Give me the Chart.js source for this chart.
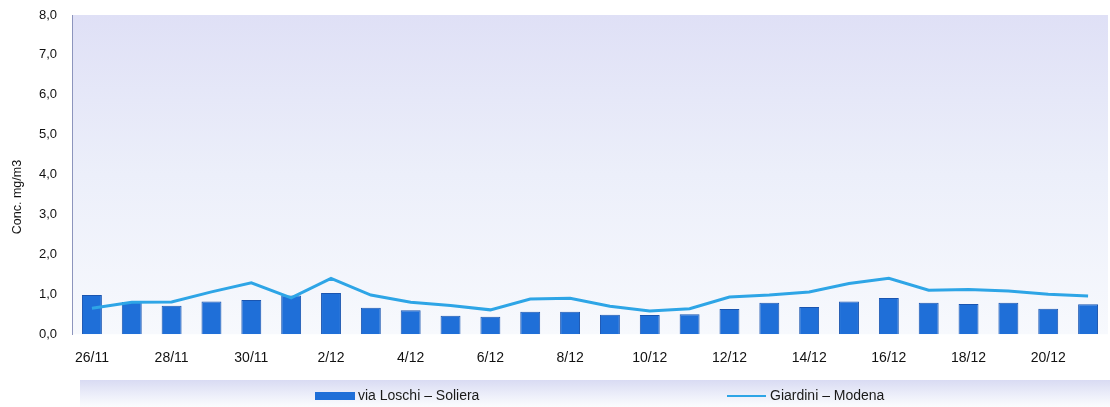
<!DOCTYPE html>
<html>
<head>
<meta charset="utf-8">
<script src="https://cdn.jsdelivr.net/npm/chart.js@4.4.1/dist/chart.umd.min.js"></script>
<style>
  html, body { margin: 0; padding: 0; background: #ffffff; }
  #wrap { position: relative; width: 1110px; height: 407px; }
</style>
</head>
<body>
<div id="wrap"><canvas id="c" width="1110" height="407"></canvas></div>
<script>
// Daily concentrations (mg/m3), 26 November – 21 December
const days = ['26/11','27/11','28/11','29/11','30/11','1/12','2/12','3/12','4/12','5/12','6/12','7/12','8/12',
              '9/12','10/12','11/12','12/12','13/12','14/12','15/12','16/12','17/12','18/12','19/12','20/12','21/12'];
const soliera = [0.98, 0.81, 0.71, 0.82, 0.86, 0.97, 1.03, 0.66, 0.60, 0.46, 0.44, 0.56, 0.56,
                 0.49, 0.48, 0.50, 0.63, 0.79, 0.68, 0.82, 0.91, 0.79, 0.76, 0.79, 0.64, 0.75];
const modena  = [0.65, 0.80, 0.81, 1.06, 1.29, 0.91, 1.40, 0.98, 0.80, 0.72, 0.61, 0.88, 0.90,
                 0.70, 0.58, 0.64, 0.93, 0.98, 1.06, 1.27, 1.40, 1.10, 1.12, 1.08, 1.00, 0.96];
const yTicks = [0, 1, 2, 3, 4, 5, 6, 7, 8];
const seriesNames = ['via Loschi \u2013 Soliera', 'Giardini \u2013 Modena'];
const yTitle = 'Conc. mg/m3';

const FONT = '"Liberation Sans", Arial, sans-serif';

// Lavender wash behind the plotting area
const plotBackground = {
  id: 'plotBackground',
  beforeDraw(chart) {
    const { ctx, chartArea: a } = chart;
    const g = ctx.createLinearGradient(0, a.top, 0, a.bottom);
    g.addColorStop(0, '#dfe0f6');
    g.addColorStop(0.5, '#eceffa');
    g.addColorStop(1, '#f7f9fd');
    ctx.save();
    ctx.fillStyle = g;
    ctx.fillRect(a.left, a.top, a.right - a.left, a.bottom - a.top);
    ctx.restore();
  }
};

// Rotated y-axis title, sitting a little below the axis midpoint
const yAxisTitle = {
  id: 'yAxisTitle',
  afterDraw(chart) {
    const { ctx } = chart;
    ctx.save();
    ctx.translate(18, 197);
    ctx.rotate(-Math.PI / 2);
    ctx.font = '12.5px ' + FONT;
    ctx.fillStyle = '#111111';
    ctx.textAlign = 'center';
    ctx.textBaseline = 'middle';
    ctx.fillText(yTitle, 0, 0);
    ctx.restore();
  }
};

// Legend strip along the bottom edge
const bottomLegend = {
  id: 'bottomLegend',
  afterDraw(chart) {
    const { ctx } = chart;
    const top = 380, bottom = chart.height, left = 80, right = chart.width;
    const g = ctx.createLinearGradient(0, top, 0, bottom);
    g.addColorStop(0, '#d9dbf3');
    g.addColorStop(0.6, '#eef0fa');
    g.addColorStop(1, '#fbfcfe');
    ctx.save();
    ctx.fillStyle = g;
    ctx.fillRect(left, top, right - left, bottom - top);

    const ds = chart.data.datasets;
    const bar = ds.find(d => d.type === 'bar');
    const line = ds.find(d => d.type === 'line');
    const y = 396;
    ctx.font = '14px ' + FONT;
    ctx.textBaseline = 'middle';
    // bar series swatch
    ctx.fillStyle = bar.backgroundColor;
    ctx.fillRect(315, y - 4, 40, 8);
    ctx.fillStyle = '#1a1a1a';
    ctx.fillText(bar.label, 358, y);
    // line series swatch
    ctx.strokeStyle = line.borderColor;
    ctx.lineWidth = 2;
    ctx.beginPath();
    ctx.moveTo(727, y);
    ctx.lineTo(766, y);
    ctx.stroke();
    ctx.fillText(line.label, 770, y);
    ctx.restore();
  }
};

new Chart(document.getElementById('c'), {
  data: {
    labels: days,
    datasets: [
      {
        type: 'line',
        label: seriesNames[1],
        data: modena,
        borderColor: '#2ea5e6',
        borderWidth: 3,
        pointRadius: 0,
        tension: 0,
        order: 0
      },
      {
        type: 'bar',
        label: seriesNames[0],
        data: soliera,
        backgroundColor: '#1f6fd8',
        borderColor: '#1a55b0',
        borderWidth: 1,
        categoryPercentage: 1,
        barPercentage: 0.5,
        order: 1
      }
    ]
  },
  options: {
    responsive: false,
    animation: false,
    layout: { padding: { top: 15, right: 2, bottom: 24, left: 1 } },
    plugins: { legend: { display: false }, tooltip: { enabled: false } },
    scales: {
      x: {
        grid: { display: false, drawTicks: false },
        border: { display: false },
        ticks: {
          autoSkip: false,
          maxRotation: 0,
          padding: 16,
          color: '#111111',
          font: { family: FONT, size: 14 },
          callback(v, i) { return i % 2 === 0 ? days[i] : ''; }
        }
      },
      y: {
        min: 0,
        max: 8,
        afterBuildTicks(axis) { axis.ticks = yTicks.map(v => ({ value: v })); },
        afterFit(axis) { axis.width = 71; },
        grid: { display: false, drawOnChartArea: false, drawTicks: true, tickLength: 15, tickColor: 'rgba(0,0,0,0)' },
        border: { display: true, color: '#8d95bd', width: 1, dash: [2, 1] },
        ticks: {
          padding: 0,
          color: '#111111',
          font: { family: FONT, size: 13 },
          callback(v) { return v.toFixed(1).replace('.', ','); }
        }
      }
    }
  },
  plugins: [plotBackground, yAxisTitle, bottomLegend]
});
</script>
</body>
</html>
